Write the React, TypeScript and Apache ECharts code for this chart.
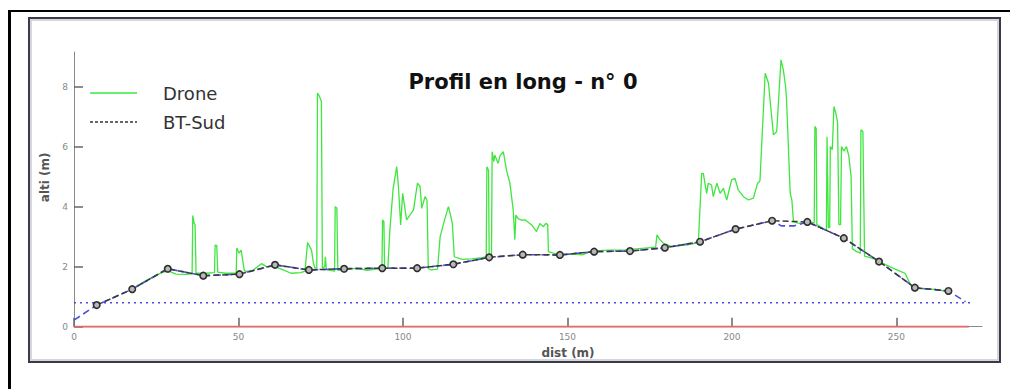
import React, { useEffect, useRef } from "react";
import * as echarts from "echarts";

// Drone profile (dist m, alti m)
const droneDist = [
  19.0, 23.0, 27.0, 28.8, 31.0, 34.0, 35.9, 36.1, 36.5, 36.8, 37.1, 40.0, 42.7, 42.9, 43.4, 43.7,
  46.0, 49.3, 49.5, 50.2, 50.8, 51.8, 54.0, 57.0, 58.5, 61.0, 63.0, 66.0, 69.0, 70.2, 71.0, 72.2,
  72.8, 73.3, 73.8, 74.0, 74.5, 75.2, 75.5, 76.2, 76.4, 76.7, 79.2, 79.4, 79.9, 80.2, 83.0, 86.0,
  89.0, 92.0, 93.6, 93.8, 94.2, 94.4, 95.4, 96.0, 97.0, 98.1, 98.6, 99.3, 99.9, 101.1, 102.0, 103.2,
  104.4, 105.2, 105.7, 106.7, 107.3, 107.7, 108.5, 110.5, 111.3, 112.5, 113.8, 114.3, 115.0, 115.6,
  118.0, 121.0, 124.0, 125.3, 125.5, 126.0, 126.2, 126.9, 127.1, 127.6, 127.9, 128.9, 129.5, 130.5,
  131.5, 132.5, 133.5, 134.0, 134.3, 135.0, 136.0, 137.1, 139.1, 140.6, 141.6, 142.7, 143.4, 144.0,
  144.2, 146.0, 149.0, 152.3, 154.5, 157.4, 162.4, 167.5, 172.6, 176.8, 177.2, 178.1, 179.2, 181.7,
  184.0, 186.0, 188.8, 189.8, 190.8, 191.3, 192.3, 192.8, 193.8, 194.3, 195.4, 196.4, 197.4, 198.4,
  199.9, 200.9, 201.9, 203.5, 205.0, 206.5, 207.8, 208.5, 210.1, 211.1, 212.6, 213.6, 214.9, 215.6,
  216.3, 216.6, 217.7, 218.2, 218.7, 220.0, 222.0, 224.2, 225.0, 225.2, 225.6, 225.8, 228.7, 228.9,
  229.3, 229.7, 229.9, 230.5, 231.0, 231.6, 232.1, 232.5, 233.0, 233.3, 234.0, 234.8, 235.5, 236.2,
  236.6, 237.9, 239.0, 239.2, 239.8, 240.3, 242.0, 243.5, 246.0, 249.1, 251.0, 252.6, 254.6, 256.0,
  258.5, 261.7, 265.3,
];
const droneAlt = [
  1.35, 1.6, 1.82, 1.85, 1.75, 1.74, 1.76, 3.7, 3.45, 3.4, 1.78, 1.78, 1.8, 2.72, 2.7, 1.82,
  1.78, 1.78, 2.62, 2.45, 2.55, 1.85, 1.85, 2.1, 2.0, 2.0, 1.92, 1.78, 1.8, 1.85, 2.8, 2.55,
  2.1, 1.95, 1.95, 7.78, 7.7, 7.5, 1.95, 2.0, 2.33, 1.9, 1.85, 4.0, 3.95, 1.88, 1.9, 1.95,
  1.88, 1.92, 1.94, 3.56, 3.5, 1.95, 1.95, 3.2, 4.6, 5.33, 4.7, 3.39, 4.44, 3.56, 3.7, 3.89,
  4.78, 4.67, 3.94, 4.33, 4.22, 1.94, 1.89, 1.92, 3.0, 3.5, 4.0, 3.78, 3.44, 2.33,
  2.24, 2.26, 2.3, 2.33, 5.33, 5.2, 2.33, 2.33, 5.83, 5.5, 5.72, 5.44, 5.7, 5.83,
  5.2, 4.78, 3.89, 2.9, 3.72, 3.6, 3.55, 3.56, 3.39, 3.17, 3.44, 3.33, 3.44, 3.4,
  2.5, 2.44, 2.4, 2.42, 2.39, 2.52, 2.55, 2.56, 2.61, 2.65, 3.06, 2.9, 2.78, 2.67,
  2.7, 2.72, 2.78, 2.85, 5.11, 5.1, 4.44, 4.78, 4.72, 4.33, 4.78, 4.44, 4.61, 4.22,
  4.89, 4.94, 4.56, 4.33, 4.22, 4.28, 4.78, 4.85, 8.44, 8.11, 6.39, 6.5, 8.89, 8.56,
  8.0, 7.55, 4.44, 4.22, 3.5, 3.45, 3.45, 3.48, 3.45, 6.67, 6.6, 3.4, 3.2, 6.33,
  3.3, 3.3, 6.0, 5.9, 7.33, 7.1, 6.8, 3.4, 3.4, 6.0, 5.85, 6.0, 5.7, 5.0,
  2.6, 2.5, 2.45, 6.56, 6.5, 2.35, 2.3, 2.25, 2.1, 1.94, 1.85, 1.78, 1.33, 1.28,
  1.26, 1.24, 1.17,
];

// BT-Sud survey points
const btDist = [6.9, 17.7, 28.5, 39.3, 50.3, 61.1, 71.4, 82.1, 93.7, 104.3, 115.3, 126.2, 136.4, 147.7, 158.1, 169.0, 179.6, 190.3, 201.1, 212.2, 222.9, 234.0, 244.7, 255.6, 265.8];
const btAlt = [0.72, 1.25, 1.93, 1.7, 1.75, 2.06, 1.89, 1.93, 1.95, 1.95, 2.08, 2.31, 2.4, 2.39, 2.5, 2.52, 2.63, 2.83, 3.25, 3.53, 3.49, 2.95, 2.17, 1.3, 1.19];

// Interpolated (blue dashed) profile
const interpDist = [0, 6.9, 17.7, 28.5, 39.3, 50.3, 61.1, 71.4, 82.1, 93.7, 104.3, 115.3, 126.2, 136.4, 147.7, 158.1, 169.0, 179.6, 190.3, 201.1, 212.2, 215.0, 219.0, 222.9, 234.0, 244.7, 255.6, 265.8, 271.0];
const interpAlt = [0.22, 0.72, 1.25, 1.93, 1.7, 1.75, 2.06, 1.89, 1.93, 1.95, 1.95, 2.08, 2.31, 2.4, 2.39, 2.5, 2.52, 2.63, 2.83, 3.25, 3.53, 3.36, 3.36, 3.49, 2.95, 2.17, 1.3, 1.19, 0.83];

// Reference lines
const refDist = [0, 272.5];
const refAlt = [0.8, 0.8];
const baseDist = [0, 272];
const baseAlt = [0, 0];

const pairs = (xs: number[], ys: number[]) => xs.map((x, i) => [x, ys[i]]);

export default function App() {
  const ref = useRef<HTMLDivElement>(null);
  useEffect(() => {
    if (!ref.current) return;
    const chart = echarts.init(ref.current, null, { renderer: "svg" });
    const axisGrey = "#8a8a8a";
    chart.setOption({
      animation: false,
      backgroundColor: "#ffffff",
      title: {
        text: "Profil en long - n° 0",
        left: 518,
        top: 66,
        textAlign: "center",
        textStyle: { fontFamily: "DejaVu Sans", fontWeight: "bold", fontSize: 21, color: "#111" },
      },
      grid: { left: 74, right: 28, top: 52, bottom: 62.3 },
      xAxis: {
        type: "value",
        min: 0,
        max: 276,
        interval: 50,
        name: "dist (m)",
        nameLocation: "middle",
        nameGap: 16,
        nameTextStyle: { fontFamily: "DejaVu Sans", fontWeight: "bold", fontSize: 12, color: "#555", padding: [0, 0, 0, 80] },
        axisLine: { show: true, lineStyle: { color: axisGrey, width: 1 } },
        axisTick: { show: true, inside: true, length: 9, lineStyle: { color: "#666", width: 1.5 } },
        axisLabel: { showMaxLabel: false, fontSize: 9, color: "#888", margin: 6, fontFamily: "DejaVu Sans" },
        splitLine: { show: false },
      },
      yAxis: {
        type: "value",
        min: 0,
        max: 9.15,
        interval: 2,
        name: "alti (m)",
        nameLocation: "middle",
        nameGap: 20,
        nameTextStyle: { fontFamily: "DejaVu Sans", fontWeight: "bold", fontSize: 12, color: "#555", padding: [0, 0, 0, 24] },
        axisLine: { show: true, lineStyle: { color: axisGrey, width: 1 } },
        axisTick: { show: true, inside: true, length: 9, lineStyle: { color: "#666", width: 1.5 } },
        axisLabel: { showMaxLabel: false, fontSize: 9, color: "#888", margin: 6, fontFamily: "DejaVu Sans" },
        splitLine: { show: false },
      },
      series: [
        {
          name: "base",
          type: "line",
          data: pairs(baseDist, baseAlt),
          symbol: "none",
          lineStyle: { color: "#e06a6a", width: 2 },
          z: 3,
        },
        {
          name: "ref",
          type: "line",
          data: pairs(refDist, refAlt),
          symbol: "none",
          lineStyle: { color: "#4a4ae6", width: 1.6, type: [2, 4] },
          z: 3,
        },
        {
          name: "Drone",
          type: "line",
          data: pairs(droneDist, droneAlt),
          symbol: "none",
          lineStyle: { color: "#3ee63e", width: 1.3 },
          z: 4,
        },
        {
          name: "interp",
          type: "line",
          data: pairs(interpDist, interpAlt),
          symbol: "none",
          lineStyle: { color: "#4f4fdc", width: 1.6, type: [7, 4] },
          z: 5,
        },
        {
          name: "BT-Sud",
          type: "line",
          data: pairs(btDist, btAlt),
          symbol: "circle",
          symbolSize: 6.5,
          itemStyle: { color: "#b8b8b8", borderColor: "#2e2e2e", borderWidth: 1.6 },
          lineStyle: { color: "#3a3a3a", width: 1.5, type: [6, 3] },
          z: 6,
        },
      ],
      graphic: [
        { type: "rect", shape: { x: 8, y: 10, width: 1002, height: 2 }, style: { fill: "#000" }, silent: true },
        { type: "rect", shape: { x: 8, y: 10, width: 3, height: 379 }, style: { fill: "#000" }, silent: true },
        { type: "rect", shape: { x: 29, y: 18, width: 971, height: 344 }, style: { fill: "none", stroke: "#3a3a48", lineWidth: 2 }, silent: true },
        { type: "rect", shape: { x: 31, y: 20, width: 967, height: 340 }, style: { fill: "none", stroke: "#c9c9d2", lineWidth: 1.5 }, silent: true },
        { type: "line", shape: { x1: 90, y1: 93, x2: 137, y2: 93 }, style: { stroke: "#3ee63e", lineWidth: 1.6 } },
        { type: "line", shape: { x1: 90, y1: 122, x2: 137, y2: 122 }, style: { stroke: "#333", lineWidth: 1.5, lineDash: [3, 2] } },
        { type: "text", x: 163, y: 93, style: { text: "Drone", fontFamily: "DejaVu Sans", fontSize: 18, fill: "#333", verticalAlign: "middle" } },
        { type: "text", x: 163, y: 122, style: { text: "BT-Sud", fontFamily: "DejaVu Sans", fontSize: 18, fill: "#333", verticalAlign: "middle" } },
      ],
    });
    return () => chart.dispose();
  }, []);
  return (
    <div
      ref={ref}
      style={{ position: "absolute", left: 0, top: 0, width: 1010, height: 389, background: "#fff" }}
    />
  );
}
